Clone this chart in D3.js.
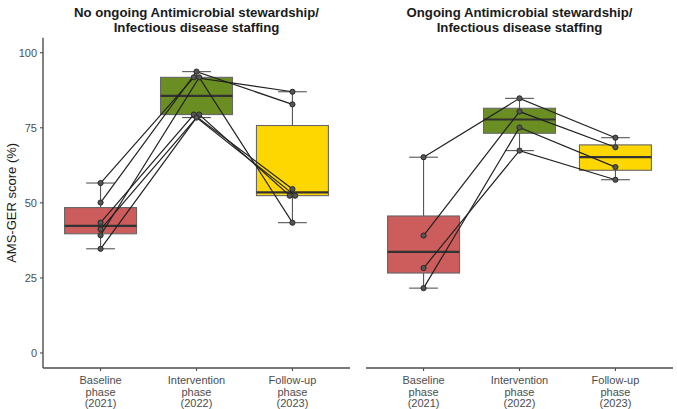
<!DOCTYPE html>
<html>
<head>
<meta charset="utf-8">
<script src="https://cdn.jsdelivr.net/npm/d3@7"></script>
<style>
  body { margin: 0; background: #fff; }
  svg { font-family: "Liberation Sans", Arial, sans-serif; }
</style>
</head>
<body>
<svg id="chart"></svg>
<script>
// phases on the x axis (one label line per entry)
const phaseLabels = [
  ["Baseline", "phase", "(2021)"],
  ["Intervention", "phase", "(2022)"],
  ["Follow-up", "phase", "(2023)"]
];
const phaseColors = ["#CD5C5C", "#6B8E23", "#FFD700"];

const panelTitles = [
  ["No ongoing Antimicrobial stewardship/", "Infectious disease staffing"],
  ["Ongoing Antimicrobial stewardship/", "Infectious disease staffing"]
];

// one row per hospital: baseline, intervention, follow-up
const noStewardshipScores = [
  [56.6, 91.8, 87.0],
  [50.1, 93.7, 82.8],
  [39.2, 91.8, 43.4],
  [43.4, 79.4, 54.6],
  [41.2, 79.4, 52.4],
  [34.7, 78.4, 52.4]
];
const stewardshipScores = [
  [65.2, 84.8, 71.7],
  [39.1, 80.4, 68.5],
  [21.6, 75.1, 61.9],
  [28.3, 67.4, 57.7]
];

const yTicks = [0, 25, 50, 75, 100];
const yTitle = "AMS-GER score (%)";

const width = 677, height = 409;
const svg = d3.select("#chart").attr("width", width).attr("height", height);

const y = d3.scaleLinear().domain([-5, 105]).range([368, 37.7]);

const panels = [
  { x0: 43, x1: 350, scores: noStewardshipScores, title: panelTitles[0], yAxis: true },
  { x0: 366, x1: 673, scores: stewardshipScores, title: panelTitles[1], yAxis: false }
];

function boxStats(values) {
  const v = values.slice().sort(d3.ascending);
  const q1 = d3.quantile(v, 0.25), med = d3.quantile(v, 0.5), q3 = d3.quantile(v, 0.75);
  const iqr = q3 - q1;
  const lo = d3.min(v.filter(d => d >= q1 - 1.5 * iqr));
  const hi = d3.max(v.filter(d => d <= q3 + 1.5 * iqr));
  return { q1, med, q3, lo, hi };
}

// small sideways shift for points that share the same score
function dodge(values) {
  const out = values.map(() => 0);
  const groups = d3.group(values.map((v, i) => ({ v, i })), d => d.v.toFixed(1));
  for (const g of groups.values()) {
    if (g.length < 2) continue;
    g.forEach((d, k) => { out[d.i] = (k - (g.length - 1) / 2) * 5.4; });
  }
  return out;
}

panels.forEach(p => {
  const x = d3.scalePoint().domain(d3.range(3)).range([p.x0, p.x1]).padding(0.6);
  const step = x.step();
  const boxW = step * 0.75, capW = step * 0.3;
  const g = svg.append("g");

  // panel title
  const title = g.append("text")
    .attr("x", (p.x0 + p.x1) / 2).attr("y", 17)
    .attr("text-anchor", "middle")
    .attr("font-size", 13.2).attr("font-weight", "bold").attr("fill", "#1a1a1a");
  p.title.forEach((t, i) => title.append("tspan").attr("x", (p.x0 + p.x1) / 2).attr("dy", i ? 14.5 : 0).text(t));

  // boxes
  d3.range(3).forEach(k => {
    const vals = p.scores.map(r => r[k]);
    const s = boxStats(vals);
    const cx = x(k);
    const bg = g.append("g");
    bg.append("line").attr("x1", cx).attr("x2", cx).attr("y1", y(s.hi)).attr("y2", y(s.lo))
      .attr("stroke", "#555").attr("stroke-width", 1.1);
    [s.lo, s.hi].forEach(v => bg.append("line")
      .attr("x1", cx - capW / 2).attr("x2", cx + capW / 2).attr("y1", y(v)).attr("y2", y(v))
      .attr("stroke", "#555").attr("stroke-width", 1.1));
    bg.append("rect").attr("x", cx - boxW / 2).attr("width", boxW)
      .attr("y", y(s.q3)).attr("height", y(s.q1) - y(s.q3))
      .attr("fill", phaseColors[k]).attr("stroke", "#666").attr("stroke-width", 1.1);
    bg.append("line").attr("x1", cx - boxW / 2).attr("x2", cx + boxW / 2)
      .attr("y1", y(s.med)).attr("y2", y(s.med))
      .attr("stroke", "#333").attr("stroke-width", 2.2);
  });

  // per-hospital paths and points
  const offsets = d3.range(3).map(k => dodge(p.scores.map(r => r[k])));
  const line = d3.line().x(d => d[0]).y(d => d[1]);
  p.scores.forEach((row, i) => {
    const pts = row.map((v, k) => [x(k) + offsets[k][i], y(v)]);
    g.append("path").attr("d", line(pts)).attr("fill", "none")
      .attr("stroke", "#222").attr("stroke-width", 1.2);
  });
  p.scores.forEach((row, i) => {
    row.forEach((v, k) => g.append("circle")
      .attr("cx", x(k) + offsets[k][i]).attr("cy", y(v)).attr("r", 2.6)
      .attr("fill", "#555").attr("stroke", "#2a2a2a").attr("stroke-width", 1));
  });

  // x axis
  g.append("line").attr("x1", p.x0).attr("x2", p.x1).attr("y1", 368).attr("y2", 368)
    .attr("stroke", "#4d4d4d").attr("stroke-width", 1.4);
  d3.range(3).forEach(k => {
    g.append("line").attr("x1", x(k)).attr("x2", x(k)).attr("y1", 368).attr("y2", 371)
      .attr("stroke", "#4d4d4d").attr("stroke-width", 1.1);
    const t = g.append("text").attr("text-anchor", "middle")
      .attr("font-size", 11).attr("fill", "#4d4d4d").attr("y", 384);
    phaseLabels[k].forEach((s, j) => t.append("tspan").attr("x", x(k)).attr("dy", j ? 11.5 : 0).text(s));
  });

  // y axis
  if (p.yAxis) {
    g.append("line").attr("x1", p.x0).attr("x2", p.x0).attr("y1", y(105)).attr("y2", 368)
      .attr("stroke", "#4d4d4d").attr("stroke-width", 1.4);
    yTicks.forEach(v => {
      g.append("line").attr("x1", p.x0 - 3).attr("x2", p.x0).attr("y1", y(v)).attr("y2", y(v))
        .attr("stroke", "#4d4d4d").attr("stroke-width", 1.1);
      g.append("text").attr("x", p.x0 - 6).attr("y", y(v)).attr("dy", "0.35em")
        .attr("text-anchor", "end").attr("font-size", 11).attr("fill", "#4d4d4d").text(v);
    });
    svg.append("text")
      .attr("transform", `translate(16,${(y(105) + 368) / 2}) rotate(-90)`)
      .attr("text-anchor", "middle").attr("font-size", 13).attr("fill", "#1a1a1a")
      .text(yTitle);
  }
});
</script>
</body>
</html>
